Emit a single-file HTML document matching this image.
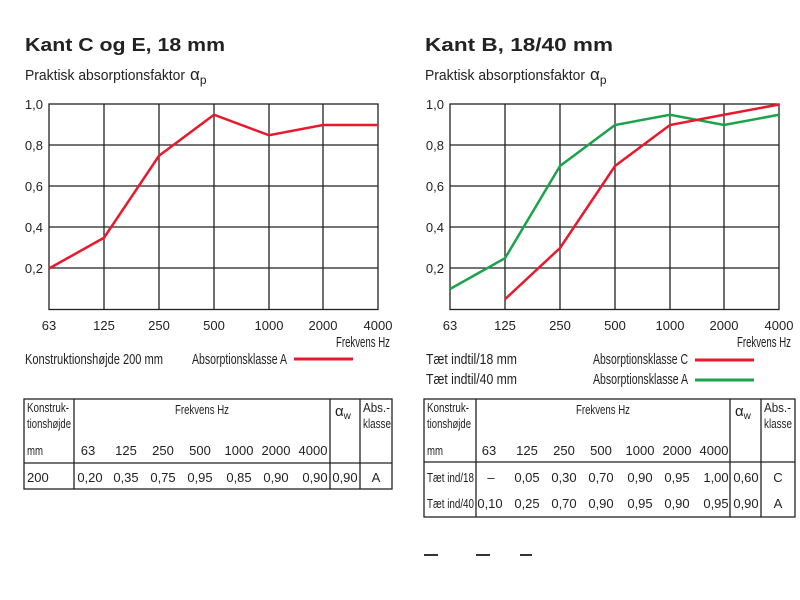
<!DOCTYPE html>
<html><head><meta charset="utf-8"><style>
body{margin:0;background:#fff}
svg{display:block}
text{font-family:"Liberation Sans",sans-serif;fill:#222}
.c{font-size:13px}
.l{font-size:14.5px}
</style></head><body>
<svg width="800" height="600" viewBox="0 0 800 600" xmlns="http://www.w3.org/2000/svg">
<g>
<text x="25" y="51" font-size="18" font-weight="bold" textLength="200" lengthAdjust="spacingAndGlyphs">Kant C og E, 18 mm</text>
<text x="25" y="80" font-size="15" textLength="160" lengthAdjust="spacingAndGlyphs">Praktisk absorptionsfaktor</text>
<text x="190" y="80" font-size="17" font-family="Liberation Serif">α<tspan font-size="12" dy="4">p</tspan></text>
<g stroke="#222" stroke-width="1.3" fill="none">
<rect x="49" y="104" width="329" height="205.5"/>
<path d="M104 104V309.5M159 104V309.5M214 104V309.5M269 104V309.5M323 104V309.5M49 145H378M49 186H378M49 227H378M49 268H378"/>
</g>
<g class="c" text-anchor="end">
<text x="43" y="109">1,0</text><text x="43" y="150">0,8</text><text x="43" y="191">0,6</text><text x="43" y="232">0,4</text><text x="43" y="273">0,2</text>
</g>
<g class="c" text-anchor="middle">
<text x="49" y="330">63</text><text x="104" y="330">125</text><text x="159" y="330">250</text><text x="214" y="330">500</text><text x="269" y="330">1000</text><text x="323" y="330">2000</text><text x="378" y="330">4000</text>
</g>
<text x="336" y="347" class="l" textLength="54" lengthAdjust="spacingAndGlyphs">Frekvens Hz</text>
<text x="25" y="364" class="l" textLength="138" lengthAdjust="spacingAndGlyphs">Konstruktionshøjde 200 mm</text>
<text x="192" y="364" class="l" textLength="95" lengthAdjust="spacingAndGlyphs">Absorptionsklasse A</text>
<line x1="294" y1="359" x2="353" y2="359" stroke="#e8192c" stroke-width="3"/>
<polyline fill="none" stroke="#e8192c" stroke-width="2.5" points="49,268.5 104,237.75 159,155.75 214,114.75 269,135.25 323,125 378,125"/>
</g>
<g transform="translate(401,0)">
<text x="24" y="51" font-size="18" font-weight="bold" textLength="188" lengthAdjust="spacingAndGlyphs">Kant B, 18/40 mm</text>
<text x="24" y="80" font-size="15" textLength="160" lengthAdjust="spacingAndGlyphs">Praktisk absorptionsfaktor</text>
<text x="189" y="80" font-size="17" font-family="Liberation Serif">α<tspan font-size="12" dy="4">p</tspan></text>
<g stroke="#222" stroke-width="1.3" fill="none">
<rect x="49" y="104" width="329" height="205.5"/>
<path d="M104 104V309.5M159 104V309.5M214 104V309.5M269 104V309.5M323 104V309.5M49 145H378M49 186H378M49 227H378M49 268H378"/>
</g>
<g class="c" text-anchor="end">
<text x="43" y="109">1,0</text><text x="43" y="150">0,8</text><text x="43" y="191">0,6</text><text x="43" y="232">0,4</text><text x="43" y="273">0,2</text>
</g>
<g class="c" text-anchor="middle">
<text x="49" y="330">63</text><text x="104" y="330">125</text><text x="159" y="330">250</text><text x="214" y="330">500</text><text x="269" y="330">1000</text><text x="323" y="330">2000</text><text x="378" y="330">4000</text>
</g>
<text x="336" y="347" class="l" textLength="54" lengthAdjust="spacingAndGlyphs">Frekvens Hz</text>
<text x="25" y="364" class="l" textLength="91" lengthAdjust="spacingAndGlyphs">Tæt indtil/18 mm</text>
<text x="25" y="384" class="l" textLength="91" lengthAdjust="spacingAndGlyphs">Tæt indtil/40 mm</text>
<text x="192" y="364" class="l" textLength="95" lengthAdjust="spacingAndGlyphs">Absorptionsklasse C</text>
<text x="192" y="384" class="l" textLength="95" lengthAdjust="spacingAndGlyphs">Absorptionsklasse A</text>
<line x1="294" y1="360" x2="353" y2="360" stroke="#e8192c" stroke-width="3"/>
<line x1="294" y1="380" x2="353" y2="380" stroke="#1aa34a" stroke-width="3"/>
<polyline fill="none" stroke="#1aa34a" stroke-width="2.5" points="49,289 104,258.25 159,166 214,125 269,114.75 323,125 378,114.75"/>
<polyline fill="none" stroke="#e8192c" stroke-width="2.5" points="104,299.25 159,248 214,166 269,125 323,114.75 378,104.5"/>
</g>
<g stroke="#222" stroke-width="1.3" fill="none">
<rect x="24" y="399" width="368" height="90"/>
<path d="M24 463H392M74 399V489M330 399V489M360 399V489"/>
<rect x="424" y="399" width="371" height="118"/>
<path d="M424 462H795M476 399V517M730 399V517M761 399V517"/>
</g>
<g font-size="13">
<text x="27" y="412" textLength="42" lengthAdjust="spacingAndGlyphs">Konstruk-</text>
<text x="27" y="428" textLength="44" lengthAdjust="spacingAndGlyphs">tionshøjde</text>
<text x="27" y="455" textLength="16" lengthAdjust="spacingAndGlyphs">mm</text>
<text x="175" y="414" textLength="54" lengthAdjust="spacingAndGlyphs">Frekvens Hz</text>
<g text-anchor="middle"><text x="88" y="455">63</text><text x="126" y="455">125</text><text x="163" y="455">250</text><text x="200" y="455">500</text><text x="239" y="455">1000</text><text x="276" y="455">2000</text><text x="313" y="455">4000</text></g>
<text x="335" y="416" font-size="15" font-family="Liberation Serif">α<tspan font-size="10" dy="3">w</tspan></text>
<text x="363" y="412" textLength="27" lengthAdjust="spacingAndGlyphs">Abs.-</text><text x="363" y="428" textLength="28" lengthAdjust="spacingAndGlyphs">klasse</text>
<text x="27" y="482">200</text>
<g text-anchor="middle"><text x="90" y="482">0,20</text><text x="126" y="482">0,35</text><text x="163" y="482">0,75</text><text x="200" y="482">0,95</text><text x="239" y="482">0,85</text><text x="276" y="482">0,90</text><text x="315" y="482">0,90</text><text x="345" y="482">0,90</text><text x="376" y="482">A</text></g>
</g>
<g font-size="13">
<text x="427" y="412" textLength="42" lengthAdjust="spacingAndGlyphs">Konstruk-</text>
<text x="427" y="428" textLength="44" lengthAdjust="spacingAndGlyphs">tionshøjde</text>
<text x="427" y="455" textLength="16" lengthAdjust="spacingAndGlyphs">mm</text>
<text x="576" y="414" textLength="54" lengthAdjust="spacingAndGlyphs">Frekvens Hz</text>
<g text-anchor="middle"><text x="489" y="455">63</text><text x="527" y="455">125</text><text x="564" y="455">250</text><text x="601" y="455">500</text><text x="640" y="455">1000</text><text x="677" y="455">2000</text><text x="714" y="455">4000</text></g>
<text x="735" y="416" font-size="15" font-family="Liberation Serif">α<tspan font-size="10" dy="3">w</tspan></text>
<text x="764" y="412" textLength="27" lengthAdjust="spacingAndGlyphs">Abs.-</text><text x="764" y="428" textLength="28" lengthAdjust="spacingAndGlyphs">klasse</text>
<text x="427" y="482" textLength="47" lengthAdjust="spacingAndGlyphs">Tæt ind/18</text>
<text x="427" y="508" textLength="47" lengthAdjust="spacingAndGlyphs">Tæt ind/40</text>
<g text-anchor="middle"><text x="491" y="482">–</text><text x="527" y="482">0,05</text><text x="564" y="482">0,30</text><text x="601" y="482">0,70</text><text x="640" y="482">0,90</text><text x="677" y="482">0,95</text><text x="716" y="482">1,00</text><text x="746" y="482">0,60</text><text x="778" y="482">C</text></g>
<g text-anchor="middle"><text x="490" y="508">0,10</text><text x="527" y="508">0,25</text><text x="564" y="508">0,70</text><text x="601" y="508">0,90</text><text x="640" y="508">0,95</text><text x="677" y="508">0,90</text><text x="716" y="508">0,95</text><text x="746" y="508">0,90</text><text x="778" y="508">A</text></g>
</g>
<path d="M424 555h14M476 555h14M520 555h12" stroke="#333" stroke-width="2"/>
</svg>
</body></html>
